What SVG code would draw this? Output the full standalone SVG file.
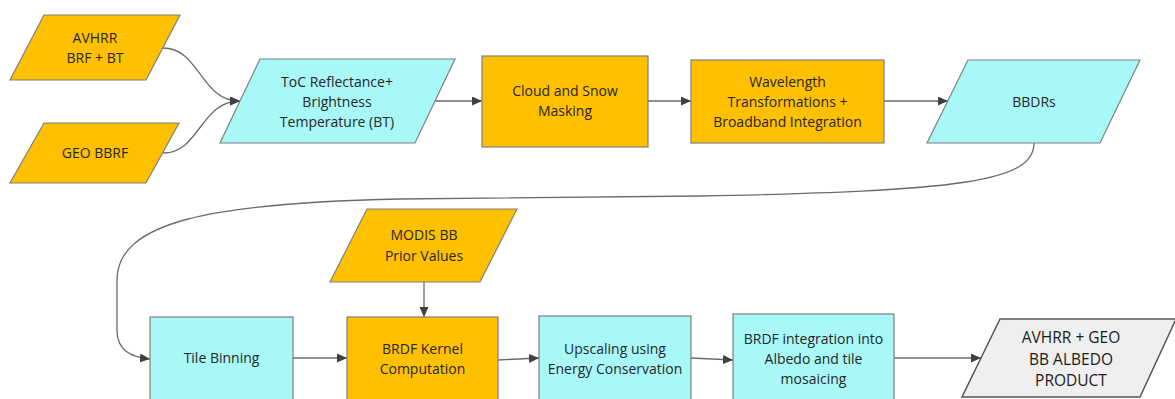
<svg xmlns="http://www.w3.org/2000/svg" width="1175" height="399" viewBox="0 0 1175 399">
  <style>
    .orange { fill: #FFC000; stroke: #7F7F7F; stroke-width: 1.2; }
    .cyan { fill: #A8F8F8; stroke: #7F7F7F; stroke-width: 1.2; }
    .grey { fill: #EFEFEF; stroke: #555555; stroke-width: 1.5; }
    .lbl { font-family: "Open Sans", "Noto Sans", sans-serif; font-size: 14px; fill: #262626; text-anchor: middle; }
    .big { font-size: 15.5px; fill: #1A1A1A; }
    .conn { fill: none; stroke: #6A6A6A; stroke-width: 1.3; }
  </style>
  <defs>
    <marker id="arr" markerUnits="userSpaceOnUse" markerWidth="11" markerHeight="10" refX="10" refY="4.5" orient="auto">
      <path d="M0,0 L10,4.5 L0,9 z" fill="#404040"/>
    </marker>
  </defs>
  <rect width="1175" height="399" fill="#FFFFFF"/>

  <g id="connectors">
    <path class="conn" d="M163,48 C200,48 200,101 240,101" marker-end="url(#arr)"/>
    <path class="conn" d="M163,153 C200,153 200,101 240,101" marker-end="url(#arr)"/>
    <path class="conn" d="M435,101 L482,101" marker-end="url(#arr)"/>
    <path class="conn" d="M648,101 L691,101" marker-end="url(#arr)"/>
    <path class="conn" d="M884,101 L948,101" marker-end="url(#arr)"/>
    <path class="conn" d="M1034,143 C1034,182 960,191 700,196 L400,199 C210,203 117,222 117,280 L117,330 C117,350 130,357 150,359" marker-end="url(#arr)"/>
    <path class="conn" d="M424,282 L424,317" marker-end="url(#arr)"/>
    <path class="conn" d="M293,358 L347,358" marker-end="url(#arr)"/>
    <path class="conn" d="M498,360 L539,358" marker-end="url(#arr)"/>
    <path class="conn" d="M691,358 L733,360" marker-end="url(#arr)"/>
    <path class="conn" d="M894,358 L981,358" marker-end="url(#arr)"/>
  </g>

  <g id="avhrr">
    <polygon class="orange" points="44,15 180,15 146,80 10,80"/>
    <text class="lbl" x="95" y="43">AVHRR</text>
    <text class="lbl" x="95" y="63">BRF + BT</text>
  </g>
  <g id="geo">
    <polygon class="orange" points="44,123 179,123 146,183 10,183"/>
    <text class="lbl" x="95" y="158">GEO BBRF</text>
  </g>
  <g id="toc">
    <polygon class="cyan" points="260,59 455,59 415,143 220,143"/>
    <text class="lbl" x="337" y="87">ToC Reflectance+</text>
    <text class="lbl" x="337" y="107">Brightness</text>
    <text class="lbl" x="337" y="127">Temperature (BT)</text>
  </g>
  <g id="cloud">
    <rect class="orange" x="482" y="56" width="166" height="91"/>
    <text class="lbl" x="565" y="96">Cloud and Snow</text>
    <text class="lbl" x="565" y="116">Masking</text>
  </g>
  <g id="wavelength">
    <rect class="orange" x="691" y="60" width="193" height="83"/>
    <text class="lbl" x="787.5" y="87">Wavelength</text>
    <text class="lbl" x="787.5" y="107">Transformations +</text>
    <text class="lbl" x="787.5" y="127">Broadband Integration</text>
  </g>
  <g id="bbdrs">
    <polygon class="cyan" points="968,60 1140,60 1100,143 927,143"/>
    <text class="lbl" x="1034" y="107">BBDRs</text>
  </g>
  <g id="modis">
    <polygon class="orange" points="367,209 517,209 480,282 330,282"/>
    <text class="lbl" x="424" y="240">MODIS BB</text>
    <text class="lbl" x="424" y="261">Prior Values</text>
  </g>
  <g id="tile">
    <rect class="cyan" x="150" y="317" width="143" height="100"/>
    <text class="lbl" x="221.5" y="363">Tile Binning</text>
  </g>
  <g id="kernel">
    <rect class="orange" x="347" y="317" width="151" height="100"/>
    <text class="lbl" x="422.5" y="354">BRDF Kernel</text>
    <text class="lbl" x="422.5" y="374">Computation</text>
  </g>
  <g id="upscaling">
    <rect class="cyan" x="539" y="316" width="152" height="100"/>
    <text class="lbl" x="615" y="354">Upscaling using</text>
    <text class="lbl" x="615" y="374">Energy Conservation</text>
  </g>
  <g id="integration">
    <rect class="cyan" x="733" y="314" width="161" height="100"/>
    <text class="lbl" x="813.5" y="344">BRDF integration into</text>
    <text class="lbl" x="813.5" y="364">Albedo and tile</text>
    <text class="lbl" x="813.5" y="384">mosaicing</text>
  </g>
  <g id="product">
    <polygon class="grey" points="1000,319 1176,319 1140,397 962,397"/>
    <text class="lbl big" x="1071" y="343">AVHRR + GEO</text>
    <text class="lbl big" x="1071" y="365">BB ALBEDO</text>
    <text class="lbl big" x="1071" y="386">PRODUCT</text>
  </g>
</svg>
